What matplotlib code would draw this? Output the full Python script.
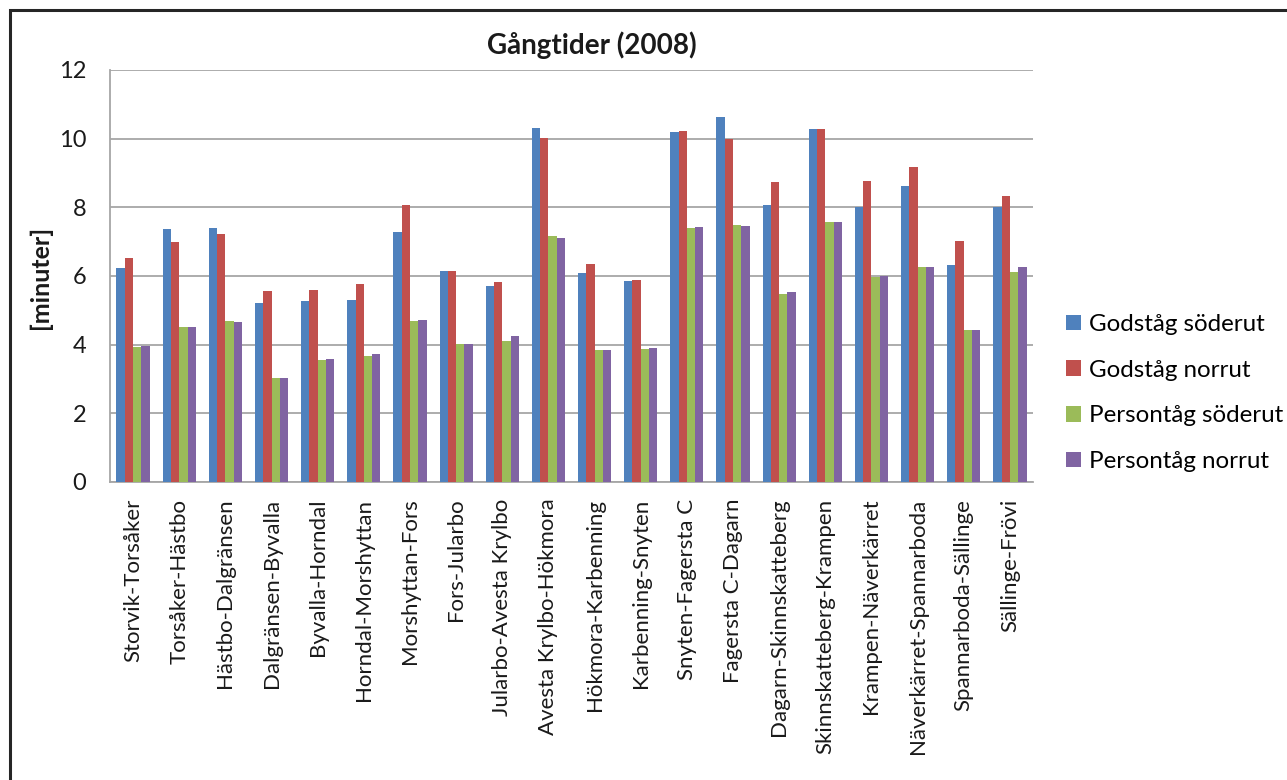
import matplotlib.pyplot as plt
import numpy as np
from matplotlib.patches import Patch, Rectangle

plt.rcParams['font.family'] = ['Lato', 'DejaVu Sans']

stracka = ['Storvik-Torsåker', 'Torsåker-Hästbo', 'Hästbo-Dalgränsen', 'Dalgränsen-Byvalla',
           'Byvalla-Horndal', 'Horndal-Morshyttan', 'Morshyttan-Fors', 'Fors-Jularbo',
           'Jularbo-Avesta Krylbo', 'Avesta Krylbo-Hökmora', 'Hökmora-Karbenning',
           'Karbenning-Snyten', 'Snyten-Fagersta C', 'Fagersta C-Dagarn',
           'Dagarn-Skinnskatteberg', 'Skinnskatteberg-Krampen', 'Krampen-Näverkärret',
           'Näverkärret-Spannarboda', 'Spannarboda-Sällinge', 'Sällinge-Frövi']

gods_soder = [6.22, 7.36, 7.39, 5.22, 5.27, 5.29, 7.29, 6.14, 5.71, 10.30,
              6.08, 5.86, 10.18, 10.62, 8.07, 10.27, 8.02, 8.62, 6.32, 8.02]
gods_norr = [6.52, 6.99, 7.23, 5.56, 5.58, 5.78, 8.08, 6.15, 5.83, 10.02,
             6.34, 5.89, 10.22, 9.99, 8.74, 10.27, 8.77, 9.17, 7.01, 8.34]
person_soder = [3.92, 4.52, 4.69, 3.02, 3.56, 3.67, 4.69, 4.02, 4.12, 7.17,
                3.84, 3.88, 7.41, 7.49, 5.49, 7.57, 5.97, 6.27, 4.42, 6.12]
person_norr = [3.95, 4.52, 4.66, 3.02, 3.59, 3.74, 4.73, 4.01, 4.24, 7.10,
               3.84, 3.90, 7.42, 7.47, 5.52, 7.57, 5.99, 6.27, 4.44, 6.26]

serier = ['Godståg söderut', 'Godståg norrut', 'Persontåg söderut', 'Persontåg norrut']
farger = ['#4F81BD', '#C0504D', '#9BBB59', '#8064A2']

fig = plt.figure(figsize=(12.87, 7.80), dpi=100)
ax = fig.add_axes([110 / 1287, 1 - 482 / 780, (1033 - 110) / 1287, (482 - 70) / 780])

x = np.arange(len(stracka))
w = 0.18
for i, (vals, c) in enumerate(zip([gods_soder, gods_norr, person_soder, person_norr], farger)):
    ax.bar(x + (i - 1.5) * w, vals, w, color=c, zorder=3)

ax.set_xlim(-0.5, len(stracka) - 0.5)
ax.set_ylim(0, 12)
ax.set_yticks(range(0, 13, 2))
ax.grid(axis='y', color='#A6A6A6', linewidth=1.3, zorder=0)
ax.set_xticks(x)
ax.set_xticklabels(stracka, rotation=90, fontsize=16, color='#1a1a1a')
ax.tick_params(axis='both', length=0)
ax.tick_params(axis='x', pad=12)
ax.tick_params(axis='y', pad=17, labelsize=17, labelcolor='#1a1a1a')
for s in ['top', 'right']:
    ax.spines[s].set_visible(False)
for s in ['left', 'bottom']:
    ax.spines[s].set_color('#A6A6A6')
    ax.spines[s].set_linewidth(1.3)

fig.text(592 / 1287, 1 - 45 / 780, 'Gångtider (2008)', ha='center', va='center',
         fontsize=20, fontweight='bold', color='#1a1a1a')
fig.text(40 / 1287, 1 - 277 / 780, '[minuter]', ha='center', va='center', rotation=90,
         fontsize=18, fontweight='bold', color='#1a1a1a')

handles = [Patch(facecolor=c, label=s) for s, c in zip(serier, farger)]
fig.legend(handles=handles, loc='center left', bbox_to_anchor=(1066 / 1287, 1 - 393 / 780),
           bbox_transform=fig.transFigure, frameon=False, fontsize=17.4,
           handlelength=0.62, handleheight=0.62, handletextpad=0.35,
           labelspacing=1.02, borderpad=0, borderaxespad=0)

# ram runt diagrammet
fig.patches.append(Rectangle((10 / 1287, -0.1), 1.2, 1 - 10 / 780 + 0.1,
                             transform=fig.transFigure, fill=False,
                             edgecolor='#262626', linewidth=2.2))

fig.savefig('out.png', dpi=100)
